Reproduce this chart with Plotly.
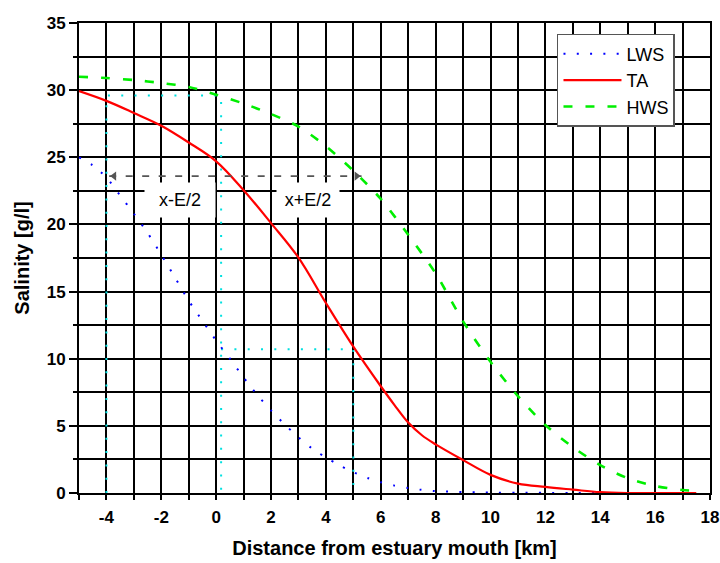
import plotly.graph_objects as go

# ---- data ----
x_lws = [-5, -4.5, -4, -3.5, -3, -2.5, -2, -1.5, -1, -0.5, 0, 0.5, 1, 1.5, 2, 2.5, 3, 3.5,
         4, 4.5, 5, 5.5, 6, 6.5, 7, 7.5, 8, 8.5, 9, 9.5, 10, 11, 12, 13, 14, 15, 16, 17, 17.5]
lws = [25.0, 24.4, 23.5, 22.15, 20.8, 19.37, 17.74, 16.04, 14.32, 12.82, 11.35, 10.0, 8.6, 7.3,
       6.15, 5.1, 4.15, 3.3, 2.65, 2.05, 1.55, 1.13, 0.8, 0.55, 0.37, 0.23, 0.14, 0.1, 0.07,
       0.05, 0.03, 0.02, 0.01, 0.0, 0.0, 0.0, 0.0, 0.0, 0.0]

x_ta = [-5, -4, -3, -2, -1, 0, 1, 2, 3, 4, 5, 6, 6.5, 7, 7.5, 8, 9, 10, 11, 12, 13, 14, 15,
        16, 17, 17.5]
ta = [29.93, 29.2, 28.3, 27.35, 26.1, 24.7, 22.55, 20.1, 17.53, 14.15, 10.9, 7.95, 6.55, 5.25,
      4.3, 3.62, 2.45, 1.35, 0.7, 0.45, 0.25, 0.06, 0.0, 0.0, 0.0, 0.0]

x_hws = [-5, -4, -3, -2, -1, 0, 1, 2, 3, 4, 5, 6, 7, 8, 9, 10, 11, 12, 13, 14, 15, 16, 17, 17.3]
hws = [31.0, 30.9, 30.75, 30.53, 30.24, 29.66, 29.0, 28.22, 27.29, 25.83, 24.0, 21.9, 19.23,
       16.35, 12.78, 9.77, 7.21, 5.06, 3.42, 2.08, 1.1, 0.52, 0.22, 0.18]

# construction lines (cyan dotted)
box1_x = [-4, -4, 0.18, 0.18]
box1_y = [0, 29.6, 29.6, 0]
box2_x = [0.18, 5.0, 5.0]
box2_y = [10.7, 10.7, 0]

# excursion arrow
arrow_x = [-3.9, 5.3]
arrow_y = [23.6, 23.6]
head_x = [-3.72, 5.12]
head_sym = ["triangle-left", "triangle-right"]

labels = ["x-E/2", "x+E/2"]
label_x = [-1.31, 3.34]
label_y = [21.85, 21.85]
label_w = [68, 60]

x_ticks = list(range(-4, 19, 2))
x_ticktext = [str(v) for v in x_ticks]
y_ticks = list(range(0, 36, 5))

FONT = "Liberation Sans, Arial, sans-serif"

fig = go.Figure()

fig.add_trace(go.Scatter(x=box1_x, y=box1_y, mode="lines", showlegend=False, hoverinfo="skip",
                         line=dict(color="#00e0e0", width=2, dash="2px,11.3px")))
fig.add_trace(go.Scatter(x=box2_x, y=box2_y, mode="lines", showlegend=False, hoverinfo="skip",
                         line=dict(color="#00e0e0", width=2, dash="2px,11.3px")))

fig.add_trace(go.Scatter(x=x_lws, y=lws, mode="lines", name="LWS",
                         line=dict(color="#0000ff", width=2, dash="2px,11.3px",
                                   shape="spline", smoothing=0.8)))
fig.add_trace(go.Scatter(x=x_ta, y=ta, mode="lines", name="TA",
                         line=dict(color="#ff0000", width=2.2, shape="spline", smoothing=1.0)))
fig.add_trace(go.Scatter(x=x_hws, y=hws, mode="lines", name="HWS",
                         line=dict(color="#00ee00", width=2.6, dash="9px,13px",
                                   shape="spline", smoothing=0.8)))

fig.add_trace(go.Scatter(x=arrow_x, y=arrow_y, mode="lines", showlegend=False, hoverinfo="skip",
                         line=dict(color="#555555", width=1.6, dash="7px,9.5px")))
fig.add_trace(go.Scatter(x=head_x, y=arrow_y, mode="markers", showlegend=False, hoverinfo="skip",
                         marker=dict(symbol=head_sym, size=8, color="#555555")))

for t, lx, ly, w in zip(labels, label_x, label_y, label_w):
    fig.add_annotation(x=lx, y=ly, text=t, showarrow=False, bgcolor="white", width=w, height=32,
                       font=dict(family=FONT, size=18, color="black"))

axis_common = dict(
    showline=True, linecolor="black", linewidth=2, mirror=True,
    showgrid=True, gridcolor="black", gridwidth=2, zeroline=False,
    ticks="outside", tickcolor="black", tickwidth=2,
    tickfont=dict(family=FONT, size=17, color="black", weight="bold"),
)

fig.update_xaxes(
    range=[-5, 18], tickvals=x_ticks, ticktext=x_ticktext, ticklen=5,
    minor=dict(dtick=1, tick0=0, showgrid=True, gridcolor="black", gridwidth=2,
               ticks="outside", ticklen=5, tickcolor="black", tickwidth=2),
    title=dict(text="Distance from estuary mouth [km]", standoff=15,
               font=dict(family=FONT, size=20, color="black", weight="bold")),
    ticklabelstandoff=3,
    **axis_common,
)
fig.update_yaxes(
    range=[0, 35], tickvals=y_ticks, ticklen=8,
    minor=dict(dtick=2.5, tick0=0, showgrid=True, gridcolor="black", gridwidth=2,
               ticks="outside", ticklen=4, tickcolor="black", tickwidth=2),
    title=dict(text="Salinity [g/l]", standoff=12,
               font=dict(family=FONT, size=20, color="black", weight="bold")),
    **axis_common,
)

fig.update_layout(
    width=720, height=563,
    margin=dict(l=79, r=10, t=23, b=70, autoexpand=False),
    plot_bgcolor="white", paper_bgcolor="white",
    font=dict(family=FONT, color="black"),
    legend=dict(x=0.7575, y=0.9766, xanchor="left", yanchor="top",
                bgcolor="white", bordercolor="#555555", borderwidth=1.5,
                font=dict(family=FONT, size=18, color="black"), itemwidth=58,
                tracegroupgap=0),
    showlegend=True,
)

# remove the default page margin so the 720x563 figure fills the window exactly
fig.write_html(
    "out.html",
    config={"displayModeBar": False},
    post_script="document.body.style.margin='0px';document.body.style.overflow='hidden';",
)
